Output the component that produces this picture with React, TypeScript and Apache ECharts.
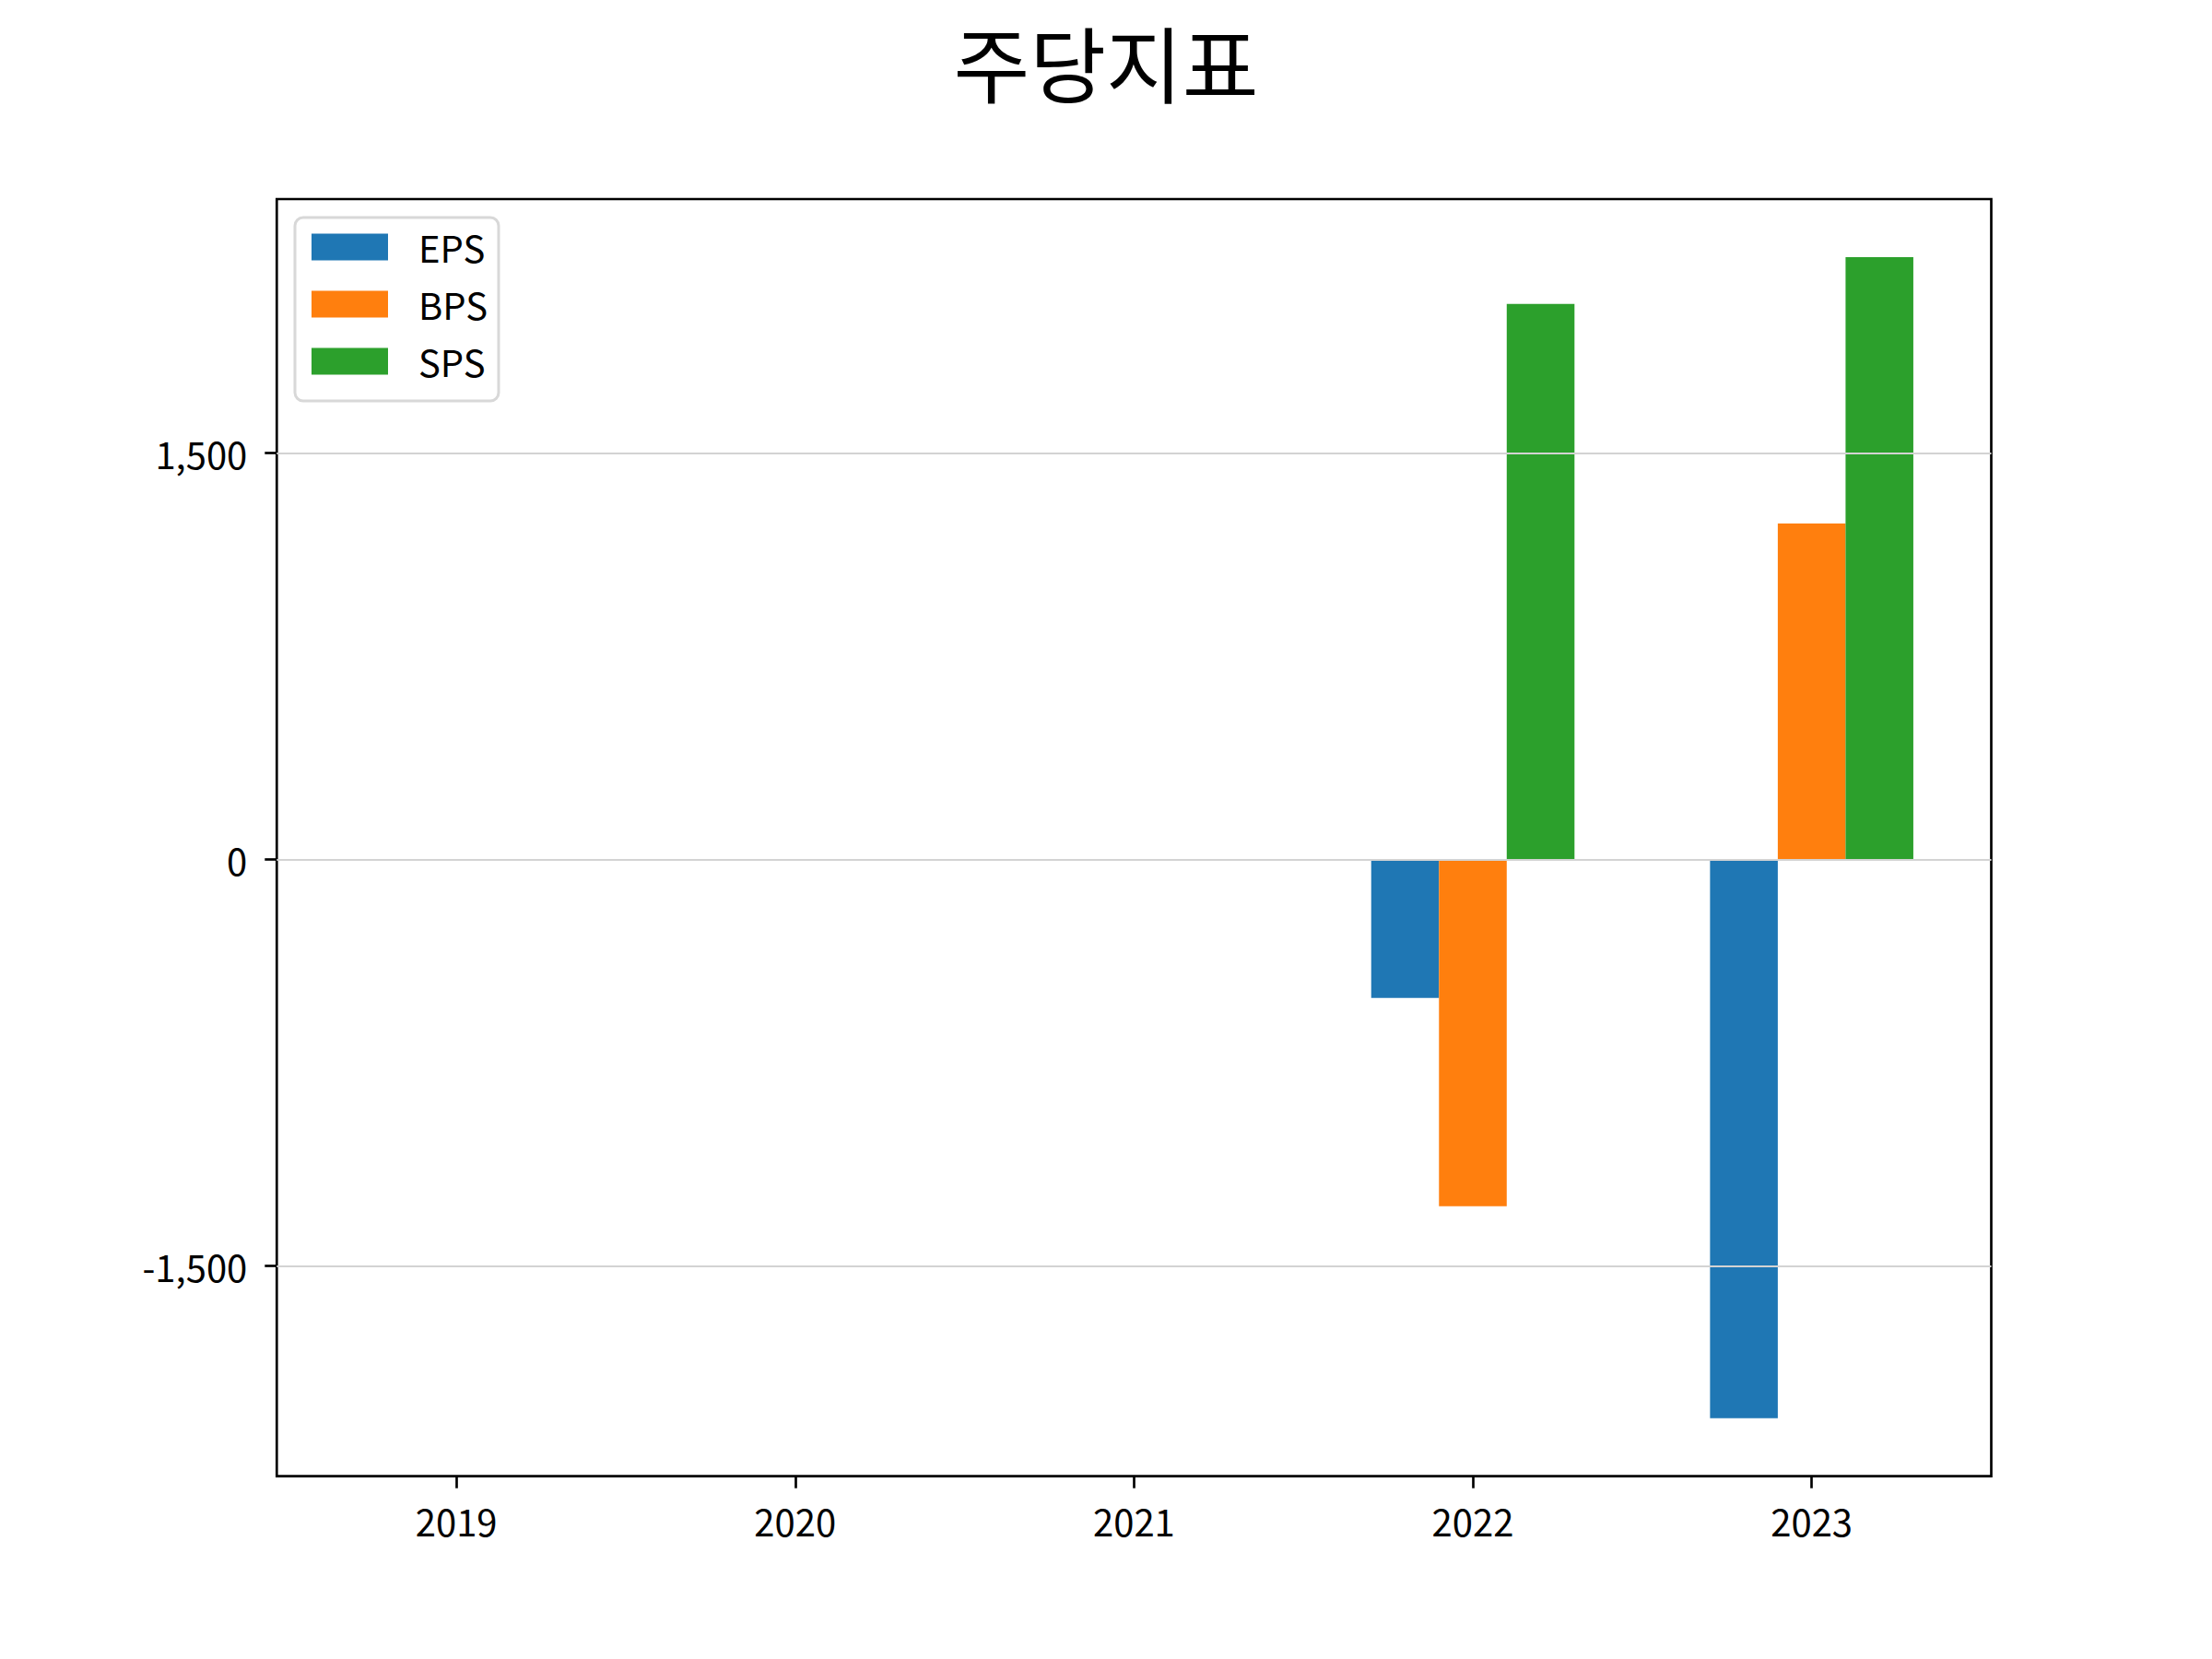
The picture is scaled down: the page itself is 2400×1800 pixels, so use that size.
import React, { useEffect, useRef } from "react";
import * as echarts from "echarts";

const years = ["2019", "2020", "2021", "2022", "2023"];
const seriesNames = ["EPS", "BPS", "SPS"];
const epsValues = [null, null, null, -510, -2061];
const bpsValues = [null, null, null, -1279, 1240];
const spsValues = [null, null, null, 2050, 2223];
const yTicks = [-1500, 0, 1500];
const colors = ["#1f77b4", "#ff7f0e", "#2ca02c"];

const W = 2400;
const H = 1800;
const GRID = { left: 300.3, top: 216, right: 239.5, bottom: 198.3 };
const FONT = '"Noto Sans CJK KR", "Noto Sans", sans-serif';

export default function App() {
  const ref = useRef<HTMLDivElement>(null);

  useEffect(() => {
    document.body.style.margin = "0";
    if (!ref.current) return;
    const chart = echarts.init(ref.current, null, { renderer: "svg" });

    const all = [epsValues, bpsValues, spsValues];
    const flat = all.flat().filter((v) => v !== null) as number[];
    const lo = Math.min(...flat);
    const hi = Math.max(...flat);
    const pad = 0.05 * (hi - lo);
    const yMin = lo - pad;
    const yMax = hi + pad;

    const barW = 0.2;
    const offsets = [-barW, 0, barW];
    const xLo = offsets[0] - barW / 2;
    const xHi = years.length - 1 + offsets[2] + barW / 2;
    const xPad = 0.05 * (xHi - xLo);
    const xMin = xLo - xPad;
    const xMax = xHi + xPad;
    const plotW = W - GRID.left - GRID.right;
    const pxPerUnit = plotW / (xMax - xMin);

    const series: any[] = all.map((vals, si) => ({
      name: seriesNames[si],
      type: "bar",
      barWidth: barW * pxPerUnit,
      barGap: "-100%",
      itemStyle: { color: colors[si] },
      data: vals.map((v, i) => [i + offsets[si], v]),
    }));
    series[2].markLine = {
      silent: true,
      symbol: ["none", "none"],
      z: 10,
      label: { show: false },
      lineStyle: { color: "#d3d3d3", width: 2, type: "solid" },
      emphasis: { disabled: true },
      data: yTicks.map((t) => ({ yAxis: t })),
    };

    chart.setOption({
      animation: false,
      backgroundColor: "#ffffff",
      textStyle: { fontFamily: FONT },
      title: {
        text: "주당지표",
        left: "center",
        top: 16,
        textStyle: { fontFamily: FONT, fontSize: 90, fontWeight: "normal", color: "#000" },
      },
      legend: {
        orient: "vertical",
        left: 320,
        top: 236,
        padding: [12, 12, 23, 18],
        itemWidth: 83,
        itemHeight: 29,
        itemGap: 22,
        icon: "rect",
        backgroundColor: "#ffffff",
        borderColor: "#d8d8d8",
        borderWidth: 3,
        borderRadius: 9,
        textStyle: {
          fontFamily: FONT,
          fontSize: 40,
          color: "#000",
          padding: [0, 0, 0, 28],
        },
        data: seriesNames,
      },
      grid: {
        left: GRID.left,
        top: GRID.top,
        right: GRID.right,
        bottom: GRID.bottom,
        show: true,
        borderColor: "#000",
        borderWidth: 2.67,
        backgroundColor: "transparent",
      },
      xAxis: {
        type: "value",
        min: xMin,
        max: xMax,
        axisLine: { show: false, onZero: false },
        splitLine: { show: false },
        axisTick: {
          show: true,
          length: 13,
          lineStyle: { color: "#000", width: 2.67 },
          customValues: years.map((_, i) => i),
        },
        axisLabel: {
          fontFamily: FONT,
          fontSize: 40,
          color: "#000",
          margin: 28,
          customValues: years.map((_, i) => i),
          formatter: (v: number) => years[Math.round(v)] ?? "",
        },
      },
      yAxis: {
        type: "value",
        min: yMin,
        max: yMax,
        axisLine: { show: false, onZero: false },
        splitLine: { show: false },
        axisTick: {
          show: true,
          length: 13,
          lineStyle: { color: "#000", width: 2.67 },
          customValues: yTicks,
        },
        axisLabel: {
          fontFamily: FONT,
          fontSize: 40,
          color: "#000",
          margin: 32,
          customValues: yTicks,
          formatter: (v: number) => Number(v).toLocaleString("en-US"),
        },
      },
      series,
    });

    return () => chart.dispose();
  }, []);

  return <div ref={ref} style={{ width: W, height: H }} />;
}
